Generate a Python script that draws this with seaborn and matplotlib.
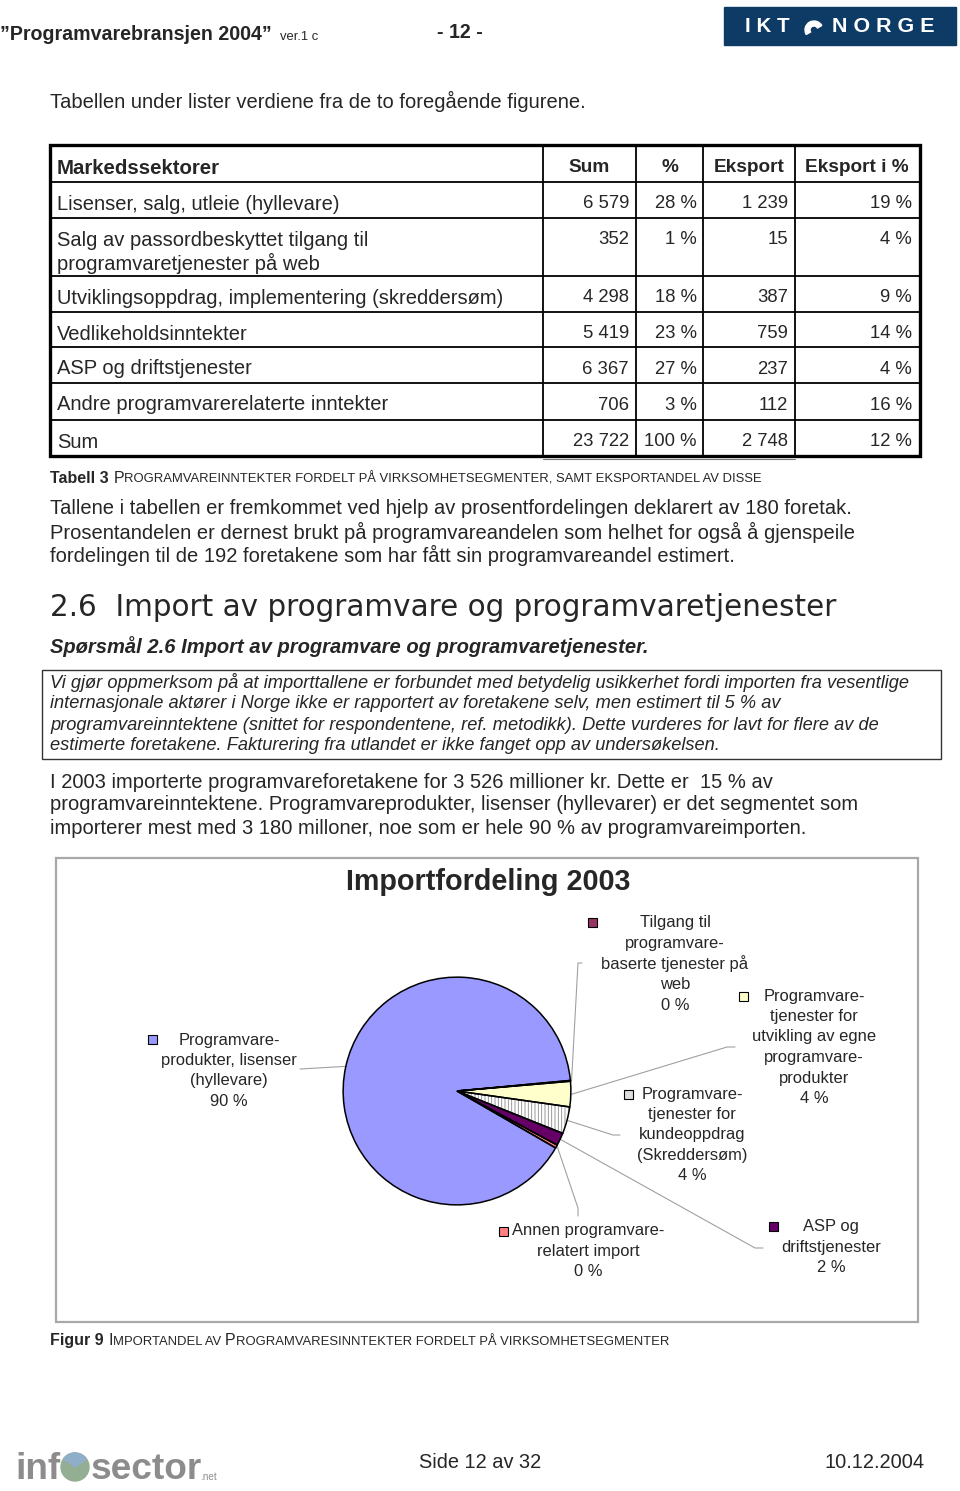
import matplotlib
matplotlib.use("Agg")
import matplotlib.pyplot as plt
import seaborn as sns
import numpy as np
from matplotlib.patches import Rectangle, Wedge, Circle

# ---- data ----
sectors = ["Lisenser, salg, utleie (hyllevare)",
           "Salg av passordbeskyttet tilgang til\nprogramvaretjenester på web",
           "Utviklingsoppdrag, implementering (skreddersøm)",
           "Vedlikeholdsinntekter",
           "ASP og driftstjenester",
           "Andre programvarerelaterte inntekter",
           "Sum"]
sums = [6579, 352, 4298, 5419, 6367, 706, 23722]
shares = [28, 1, 18, 23, 27, 3, 100]
exports = [1239, 15, 387, 759, 237, 112, 2748]
export_pct = [19, 4, 9, 14, 4, 16, 12]
headers = ["Markedssektorer", "Sum", "%", "Eksport", "Eksport i %"]

import_labels = ["Programvare-\nprodukter, lisenser\n(hyllevare)",
                 "Tilgang til\nprogramvare-\nbaserte tjenester på\nweb",
                 "Programvare-\ntjenester for\nutvikling av egne\nprogramvare-\nprodukter",
                 "Programvare-\ntjenester for\nkundeoppdrag\n(Skreddersøm)",
                 "ASP og\ndriftstjenester",
                 "Annen programvare-\nrelatert import"]
import_values = [3180, 4, 127, 135, 64, 16]   # mill. kr, total 3 526
import_colors = ["#9999FF", "#993366", "#FFFFCC", "#FFFFFF", "#660066", "#FF8080"]

sns.set_theme(style="white")
plt.rcParams['font.family'] = ['Liberation Sans', 'DejaVu Sans']
plt.rcParams['hatch.linewidth'] = 0.6

W, H = 960, 1491
fig = plt.figure(figsize=(9.6, 14.91), dpi=100)
ax = fig.add_axes([0, 0, 1, 1])
ax.set_xlim(0, W)
ax.set_ylim(H, 0)
ax.axis('off')
renderer = fig.canvas.get_renderer()

BODY = 20.2


def pt(px):
    return px * 0.72


def txt(x, y, s, px=BODY, **kw):
    kw.setdefault('va', 'center')
    return ax.text(x, y, s, fontsize=pt(px), **kw)


def runs(x, y, parts, **kw):
    # draw text pieces one after another on the same baseline
    for s, px, weight, gap in parts:
        t = ax.text(x, y, s, fontsize=pt(px), fontweight=weight, va='baseline', **kw)
        x += t.get_window_extent(renderer=renderer).width + gap


# ---- page header ----
runs(0, 40, [("”Programvarebransjen 2004”", 19.6, 'bold', 8), ("ver.1 c", 13, 'normal', 0)])
txt(437, 33, "- 12 -", 19.6, fontweight='bold')
ax.add_patch(Rectangle((724, 7), 232, 38, color="#0D3B66"))
txt(745, 27, "I K T", 20.5, color='white', fontweight='bold')
ax.add_patch(Wedge((814, 30), 9, 150, 330, width=5, color='white'))
txt(832, 27, "N O R G E", 21.5, color='white', fontweight='bold')

txt(50, 101, "Tabellen under lister verdiene fra de to foregående figurene.")

# ---- table ----
col_x = [50, 543, 636, 703, 795, 920]
row_y = [145, 182, 218, 276, 312, 347, 383, 420, 456]
for y in row_y[1:-1]:
    ax.plot([col_x[0], col_x[-1]], [y, y], color='black', lw=1.3)
for x in col_x[1:-1]:
    ax.plot([x, x], [row_y[0], row_y[-1]], color='black', lw=1.3)
ax.add_patch(Rectangle((col_x[0], row_y[0]), col_x[-1] - col_x[0], row_y[-1] - row_y[0],
                       fill=False, edgecolor='black', lw=2.4))
ax.plot([543, 795], [459, 459], color='#777777', lw=0.8)

hx = [57, 589, 670, 749, 857]
txt(hx[0], 168, headers[0], 20.4, fontweight='bold')
for x, h in zip(hx[1:], headers[1:]):
    txt(x, 168, h, 19, fontweight='bold', ha='center')


def fmt(v):
    return f"{v:,}".replace(",", " ")


right_x = [629, 697, 788, 912]
for i, name in enumerate(sectors):
    y0 = row_y[i + 1] + 22
    for j, line in enumerate(name.split("\n")):
        txt(57, y0 + 23 * j, line)
    vals = [fmt(sums[i]), f"{shares[i]} %", fmt(exports[i]), f"{export_pct[i]} %"]
    for x, v in zip(right_x, vals):
        txt(x, y0, v, 18.5, ha='right')

runs(50, 483, [("Tabell 3", 16, 'bold', 5), ("P", 16, 'normal', 0),
               ("ROGRAMVAREINNTEKTER FORDELT PÅ VIRKSOMHETSEGMENTER, SAMT EKSPORTANDEL AV DISSE",
                13, 'normal', 0)])

para1 = ["Tallene i tabellen er fremkommet ved hjelp av prosentfordelingen deklarert av 180 foretak.",
         "Prosentandelen er dernest brukt på programvareandelen som helhet for også å gjenspeile",
         "fordelingen til de 192 foretakene som har fått sin programvareandel estimert."]
for i, line in enumerate(para1):
    txt(50, 509 + 23 * i, line)

txt(50, 607, "2.6  Import av programvare og programvaretjenester", 29.5, family='DejaVu Sans')
txt(50, 647, "Spørsmål 2.6 Import av programvare og programvaretjenester.", 20.1,
    fontweight='bold', fontstyle='italic')

ax.add_patch(Rectangle((42, 670), 899, 89, fill=False, edgecolor='#333333', lw=1))
note = ["Vi gjør oppmerksom på at importtallene er forbundet med betydelig usikkerhet fordi importen fra vesentlige",
        "internasjonale aktører i Norge ikke er rapportert av foretakene selv, men estimert til 5 % av",
        "programvareinntektene (snittet for respondentene, ref. metodikk). Dette vurderes for lavt for flere av de",
        "estimerte foretakene. Fakturering fra utlandet er ikke fanget opp av undersøkelsen."]
for i, line in enumerate(note):
    txt(50, 683 + 21 * i, line, 18.3, fontstyle='italic')

para2 = ["I 2003 importerte programvareforetakene for 3 526 millioner kr. Dette er  15 % av",
         "programvareinntektene. Programvareprodukter, lisenser (hyllevarer) er det segmentet som",
         "importerer mest med 3 180 milloner, noe som er hele 90 % av programvareimporten."]
for i, line in enumerate(para2):
    txt(50, 782 + 23 * i, line)

# ---- chart ----
ax.add_patch(Rectangle((56, 858), 862, 464, fill=False, edgecolor='#A8A8A8', lw=1.6))
txt(488, 882, "Importfordeling 2003", 28.8, fontweight='bold', ha='center')

cx, cy, r = 457, 1091, 115
pax = fig.add_axes([(cx - r) / W, (H - cy - r) / H, 2 * r / W, 2 * r / H])
start = 330
wedges, _ = pax.pie(import_values, colors=import_colors, startangle=start, counterclock=False,
                    wedgeprops=dict(linewidth=0, edgecolor='none'))
wedges[3].set_hatch('|||||')
wedges[3].set_edgecolor('#8a8a8a')
pax.pie(import_values, startangle=start, counterclock=False,
        wedgeprops=dict(fill=False, edgecolor='black', linewidth=1.1))
pax.set_xlim(-1.01, 1.01)
pax.set_ylim(-1.01, 1.01)
pax.set_aspect('equal')
pax.axis('off')

total = sum(import_values)
pcts = [round(v / total * 100) for v in import_values]

# label layout: text centre x, first line y, marker x, marker y, leader elbow points
layout = [
    (229, 1040, 152, 1039, [(300, 1069)]),
    (675, 923, 592, 922, [(582, 963), (578, 963)]),
    (814, 996, 743, 996, [(735, 1047), (727, 1047)]),
    (692, 1094, 628, 1094, [(620, 1135), (613, 1135)]),
    (831, 1227, 773, 1226, [(763, 1248), (755, 1248)]),
    (588, 1231, 503, 1231, [(578, 1216), (578, 1208)]),
]
marker_colors = ["#9999FF", "#993366", "#FFFFCC", "#DDDDDD", "#660066", "#FF8080"]
for k, (w, lab, p, lay) in enumerate(zip(wedges, import_labels, pcts, layout)):
    tx, ty, mx, my, elbow = lay
    lines = lab.split("\n") + [f"{p} %"]
    for j, line in enumerate(lines):
        txt(tx, ty + 20.5 * j, line, 16.5, ha='center')
    ax.add_patch(Rectangle((mx - 4.5, my - 4.5), 9, 9, facecolor=marker_colors[k],
                           edgecolor='black', lw=0.8))
    mid = np.deg2rad((w.theta1 + w.theta2) / 2)
    ex, ey = cx + r * np.cos(mid), cy - r * np.sin(mid)
    pts = elbow + [(ex, ey)]
    ax.plot([q[0] for q in pts], [q[1] for q in pts], color='#A0A0A0', lw=0.8)

runs(50, 1345, [("Figur 9", 16, 'bold', 5), ("I", 16, 'normal', 0),
                ("MPORTANDEL AV ", 13, 'normal', 0), ("P", 16, 'normal', 0),
                ("ROGRAMVARESINNTEKTER FORDELT PÅ VIRKSOMHETSEGMENTER", 13, 'normal', 0)])

# ---- footer ----
ax.text(15, 1479, "inf", fontsize=pt(37), fontweight='bold', color='#8C8C8C', va='baseline')
ax.add_patch(Circle((75, 1467), 14, color='#94AE94'))
ax.add_patch(Wedge((75, 1467), 14, 215, 325, color='#8FAFC8'))
ax.text(91, 1479, "sector", fontsize=pt(37), fontweight='bold', color='#8C8C8C', va='baseline')
ax.text(200, 1480, ".net", fontsize=pt(10), color='#8C8C8C', va='baseline')
txt(480, 1462, "Side 12 av 32", 20, ha='center')
txt(925, 1462, "10.12.2004", 20, ha='right')

fig.savefig("out.png", dpi=100)
